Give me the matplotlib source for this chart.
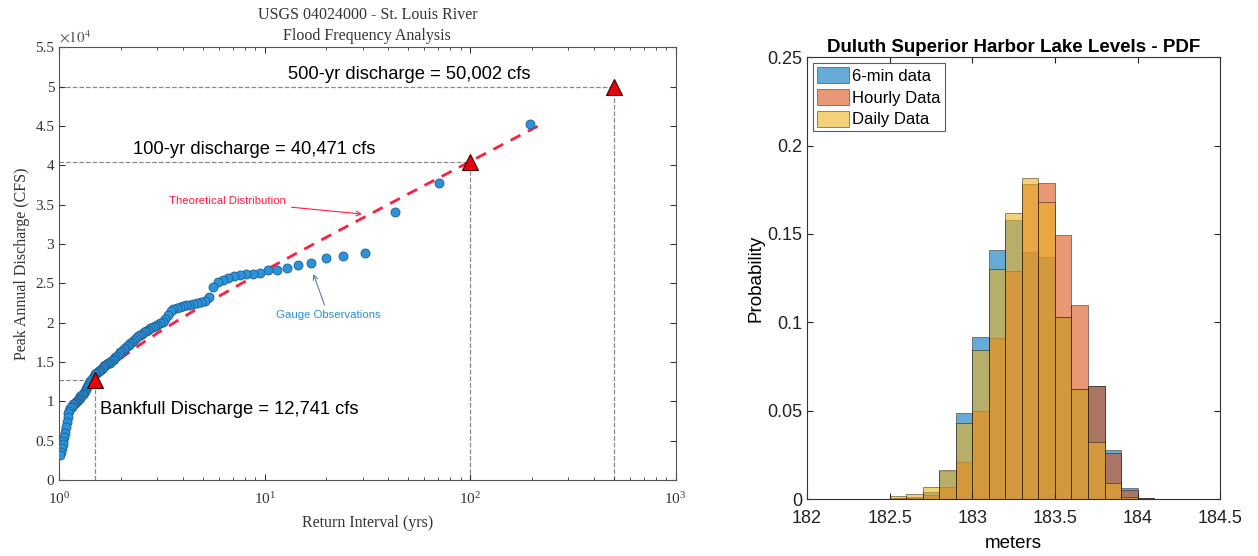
import matplotlib
matplotlib.use("Agg")
import matplotlib.pyplot as plt

# ---- left panel data: annual peaks (return interval yrs, discharge cfs)
ret_int = [196.6, 70.6, 43.0, 30.9, 24.15, 19.81, 16.79, 14.57, 12.86, 11.52,
           10.43, 9.53, 8.77, 8.12, 7.56, 7.08, 6.65, 6.27, 5.93, 5.63,
           5.36, 5.11, 4.88, 4.68, 4.48, 4.31, 4.15, 4.00, 3.86, 3.73,
           3.60, 3.49, 3.38, 3.28, 3.19, 3.10, 3.01, 2.93, 2.86, 2.78,
           2.72, 2.65, 2.59, 2.53, 2.47, 2.42, 2.37, 2.32, 2.27, 2.22,
           2.18, 2.14, 2.10, 2.06, 2.02, 1.98, 1.95, 1.91, 1.88, 1.85,
           1.82, 1.79, 1.76, 1.73, 1.71, 1.68, 1.66, 1.63, 1.61, 1.58,
           1.56, 1.54, 1.52, 1.50, 1.48, 1.46, 1.44, 1.42, 1.40, 1.38,
           1.37, 1.35, 1.34, 1.32, 1.30, 1.29, 1.27, 1.26, 1.25, 1.23,
           1.22, 1.21, 1.19, 1.18, 1.17, 1.16, 1.15, 1.13, 1.12, 1.11,
           1.10, 1.09, 1.08, 1.07, 1.06, 1.05, 1.04, 1.03, 1.02, 1.005]
peak_q = [45200, 37800, 34100, 28900, 28450, 28240, 27600, 27260, 26970, 26660,
          26620, 26330, 26200, 26110, 26000, 25900, 25700, 25450, 25150, 24500,
          23270, 22800, 22650, 22500, 22400, 22290, 22200, 22080, 21980, 21870,
          21700, 21500, 20900, 20400, 20100, 19900, 19700, 19550, 19400, 19300,
          19100, 18900, 18750, 18600, 18470, 18250, 18000, 17800, 17550, 17350,
          17200, 17000, 16800, 16600, 16400, 16200, 16000, 15800, 15600, 15400,
          15200, 15050, 14900, 14800, 14700, 14550, 14450, 14300, 14150, 14000,
          13850, 13700, 13550, 13400, 13200, 13000, 12800, 12550, 12300, 12000,
          11800, 11500, 11300, 11100, 10900, 10750, 10600, 10450, 10300, 10150,
          10000, 9900, 9800, 9700, 9600, 9450, 9300, 9100, 8800, 8500,
          8000, 7300, 6700, 6000, 5500, 5000, 4600, 4100, 3600, 3100]

theo_t = [1.005, 1.01, 1.02, 1.05, 1.1, 1.2, 1.3, 1.5, 1.75, 2, 2.5, 3, 4, 5, 7,
          10, 15, 20, 30, 50, 70, 100, 150, 200, 230]
theo_q = [3460, 4280, 5220, 6730, 8140, 9860, 11050, 12750, 14290, 15470, 17270,
          18640, 20660, 22160, 24350, 26600, 29100, 30850, 33290, 36350, 38350,
          40471, 42880, 44580, 45410]

design_t = [1.5, 100, 500]
design_q = [12741, 40471, 50002]

# ---- right panel data: lake level PDF, bin left edges (m) and probabilities
bin_left = [182.5, 182.6, 182.7, 182.8, 182.9, 183.0, 183.1, 183.2,
            183.3, 183.4, 183.5, 183.6, 183.7, 183.8, 183.9, 184.0]
six_min = [0.0005, 0.001, 0.004, 0.016, 0.0485, 0.0915, 0.141, 0.158,
           0.140, 0.137, 0.103, 0.062, 0.0637, 0.028, 0.006, 0.0005]
hourly = [0.0003, 0.0008, 0.002, 0.007, 0.021, 0.050, 0.091, 0.129,
          0.178, 0.179, 0.1495, 0.1098, 0.0637, 0.026, 0.005, 0.0003]
daily = [0.0015, 0.003, 0.0068, 0.0164, 0.043, 0.0844, 0.130, 0.1617,
         0.1815, 0.168, 0.103, 0.062, 0.032, 0.009, 0.001, 0.0]
series_names = ["6-min data", "Hourly Data", "Daily Data"]
series_colors = ["#0072BD", "#D95319", "#EDB120"]

plt.rcParams["mathtext.fontset"] = "stix"
serif = "Liberation Serif"
sans = "Liberation Sans"

fig = plt.figure(figsize=(12.58, 5.56), dpi=100)

# ================= left: flood frequency
ax = fig.add_axes([0.047, 0.137, 0.490, 0.778])
ax.set_xscale("log")
gray = "#8a8a8a"
for t, q in zip(design_t, design_q):
    ax.plot([1, t], [q, q], ls="--", color=gray, lw=0.9, zorder=1)
    ax.plot([t, t], [0, q], ls="--", color=gray, lw=0.9, zorder=1)

ax.plot(theo_t, theo_q, color="#ff1f3d", lw=2.0, dashes=(4, 3), zorder=2)
ax.plot(ret_int, peak_q, "o", ms=6.5, mfc="#2a93da", mec="#1d5f93",
        mew=0.6, zorder=3)
ax.plot(design_t, design_q, "^", ms=11, mfc="#e8000b", mec="#3a0000",
        mew=0.8, zorder=4, clip_on=False)

ax.set_xlim(1, 1000)
ax.set_ylim(0, 55000)
yt = [i * 5000 for i in range(12)]
ax.set_yticks(yt)
ax.set_yticklabels(["0", "0.5", "1", "1.5", "2", "2.5", "3", "3.5", "4",
                    "4.5", "5", "5.5"])
ax.tick_params(which="both", direction="in", top=True, right=True,
               labelsize=11, colors="#333333")
ax.tick_params(which="major", length=4)
ax.tick_params(which="minor", length=2)
ax.tick_params(axis="x", which="major", pad=8)
for lab in ax.get_yticklabels() + ax.get_xticklabels():
    lab.set_family(serif)
for s in ax.spines.values():
    s.set_color("#555555")
    s.set_linewidth(0.8)
ax.text(0.0, 1.004, r"$\times 10^4$", transform=ax.transAxes, fontsize=11,
        color="#555555", va="bottom", ha="left")

ax.set_title("USGS 04024000 - St. Louis River\nFlood Frequency Analysis",
             family=serif, fontsize=11.5, color="#333333", pad=5,
             linespacing=1.45)
ax.set_xlabel("Return Interval (yrs)", family=serif, fontsize=11.5,
              color="#333333", labelpad=6)
ax.set_ylabel("Peak Annual Discharge (CFS)", family=serif, fontsize=11.5,
              color="#333333")

ax.text(50.8, 51600, "500-yr discharge = 50,002 cfs", family=sans,
        fontsize=13.2, ha="center", va="center")
ax.text(8.85, 41950, "100-yr discharge = 40,471 cfs", family=sans,
        fontsize=13.2, ha="center", va="center")
ax.text(1.58, 8900, "Bankfull Discharge = 12,741 cfs", family=sans,
        fontsize=13.2, ha="left", va="center")
ax.annotate("Theoretical Distribution", xy=(30.7, 33760), xytext=(6.6, 35450),
            family=sans, fontsize=8.2, color="#ff1f3d", ha="center",
            va="center",
            arrowprops=dict(arrowstyle="->", color="#ff1f3d", lw=0.8))
ax.annotate("Gauge Observations", xy=(17.1, 26500), xytext=(20.4, 20900),
            family=sans, fontsize=8.2, color="#2a8fd8", ha="center",
            va="center",
            arrowprops=dict(arrowstyle="->", color="#5a7fa0", lw=0.8))

# ================= right: lake level histogram
ax2 = fig.add_axes([0.6415, 0.1025, 0.3285, 0.7945])
for vals, name, col in zip([six_min, hourly, daily], series_names,
                           series_colors):
    ax2.bar(bin_left, vals, width=0.1, align="edge", color=col, alpha=0.6,
            edgecolor="black", linewidth=0.5, label=name)
ax2.set_xlim(182, 184.5)
ax2.set_ylim(0, 0.25)
ax2.set_xticks([182, 182.5, 183, 183.5, 184, 184.5])
ax2.set_xticklabels(["182", "182.5", "183", "183.5", "184", "184.5"])
ax2.set_yticks([0, 0.05, 0.1, 0.15, 0.2, 0.25])
ax2.set_yticklabels(["0", "0.05", "0.1", "0.15", "0.2", "0.25"])
ax2.tick_params(direction="in", top=True, right=True, labelsize=13,
                length=4, colors="#222222")
ax2.tick_params(axis="x", pad=8)
for lab in ax2.get_yticklabels() + ax2.get_xticklabels():
    lab.set_family(sans)
for s in ax2.spines.values():
    s.set_color("#333333")
    s.set_linewidth(0.8)
ax2.set_title("Duluth Superior Harbor Lake Levels - PDF", family=sans,
              fontsize=13.5, fontweight="bold", pad=4)
ax2.set_xlabel("meters", family=sans, fontsize=13.5, labelpad=6)
ax2.set_ylabel("Probability", family=sans, fontsize=13.5, labelpad=2)
leg = ax2.legend(loc="upper left", prop={"family": sans, "size": 12},
                 frameon=True, fancybox=False, edgecolor="#333333",
                 borderpad=0.25, handlelength=1.9, handleheight=1.1,
                 handletextpad=0.2, labelspacing=0.3, borderaxespad=0.35)
leg.get_frame().set_linewidth(0.8)

fig.savefig("out.png", dpi=100)
